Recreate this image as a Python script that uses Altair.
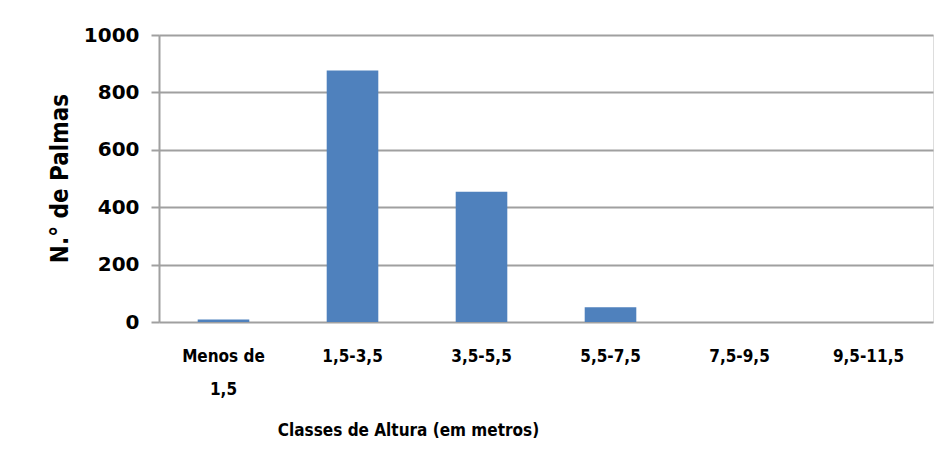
import altair as alt
import pandas as pd

categories = ["Menos de\n1,5", "1,5-3,5", "3,5-5,5", "5,5-7,5", "7,5-9,5", "9,5-11,5"]
counts = [9, 876, 454, 51, 0, 0]
y_ticks = [0, 200, 400, 600, 800, 1000]

df = pd.DataFrame({"classe": categories, "n": counts})

FONT_NARROW = "DejaVu Sans Condensed, Liberation Sans Narrow, sans-serif"
FONT_WIDE = "DejaVu Sans, sans-serif"
GRID = "#a0a0a0"

chart = alt.Chart(df).mark_bar(color="#4F81BD").encode(
    x=alt.X(
        "classe:N",
        sort=categories,
        scale=alt.Scale(paddingInner=0.6, paddingOuter=0.3),
        axis=alt.Axis(
            title="Classes de Altura (em metros)",
            labelAngle=0,
            labelExpr="split(datum.label, '\\n')",
            labelFont=FONT_NARROW,
            labelFontWeight="bold",
            labelFontSize=17,
            labelColor="#000000",
            labelLineHeight=33,
            labelPadding=26,
            ticks=False,
            domain=False,
            grid=False,
            titleFont=FONT_NARROW,
            titleFontWeight="bold",
            titleFontSize=17,
            titleColor="#000000",
            titleX=249,
            titleY=108,
            titleAlign="center",
            titleBaseline="middle",
            titleAnchor=None,
        ),
    ),
    y=alt.Y(
        "n:Q",
        scale=alt.Scale(domain=[0, 1000], nice=False),
        axis=alt.Axis(
            title="N.° de Palmas",
            values=y_ticks,
            format="d",
            labelFont=FONT_WIDE,
            labelFontWeight="bold",
            labelFontSize=20,
            labelColor="#000000",
            labelPadding=12,
            tickSize=8,
            tickColor=GRID,
            tickWidth=2,
            domainColor=GRID,
            domainWidth=2,
            gridColor=GRID,
            gridWidth=2,
            titleFont=FONT_NARROW,
            titleFontWeight="bold",
            titleFontSize=24,
            titleColor="#000000",
            titleX=-99,
            titleY=143,
            titleAlign="center",
            titleBaseline="middle",
        ),
    ),
).properties(
    width=774,
    height=287,
    autosize=alt.AutoSizeParams(type="none"),
    padding={"left": 159, "top": 35, "right": 17, "bottom": 148},
).configure_view(strokeWidth=0, stroke="transparent").configure(background="#ffffff")

chart.save("out.html", embed_options={"renderer": "svg", "actions": False})
